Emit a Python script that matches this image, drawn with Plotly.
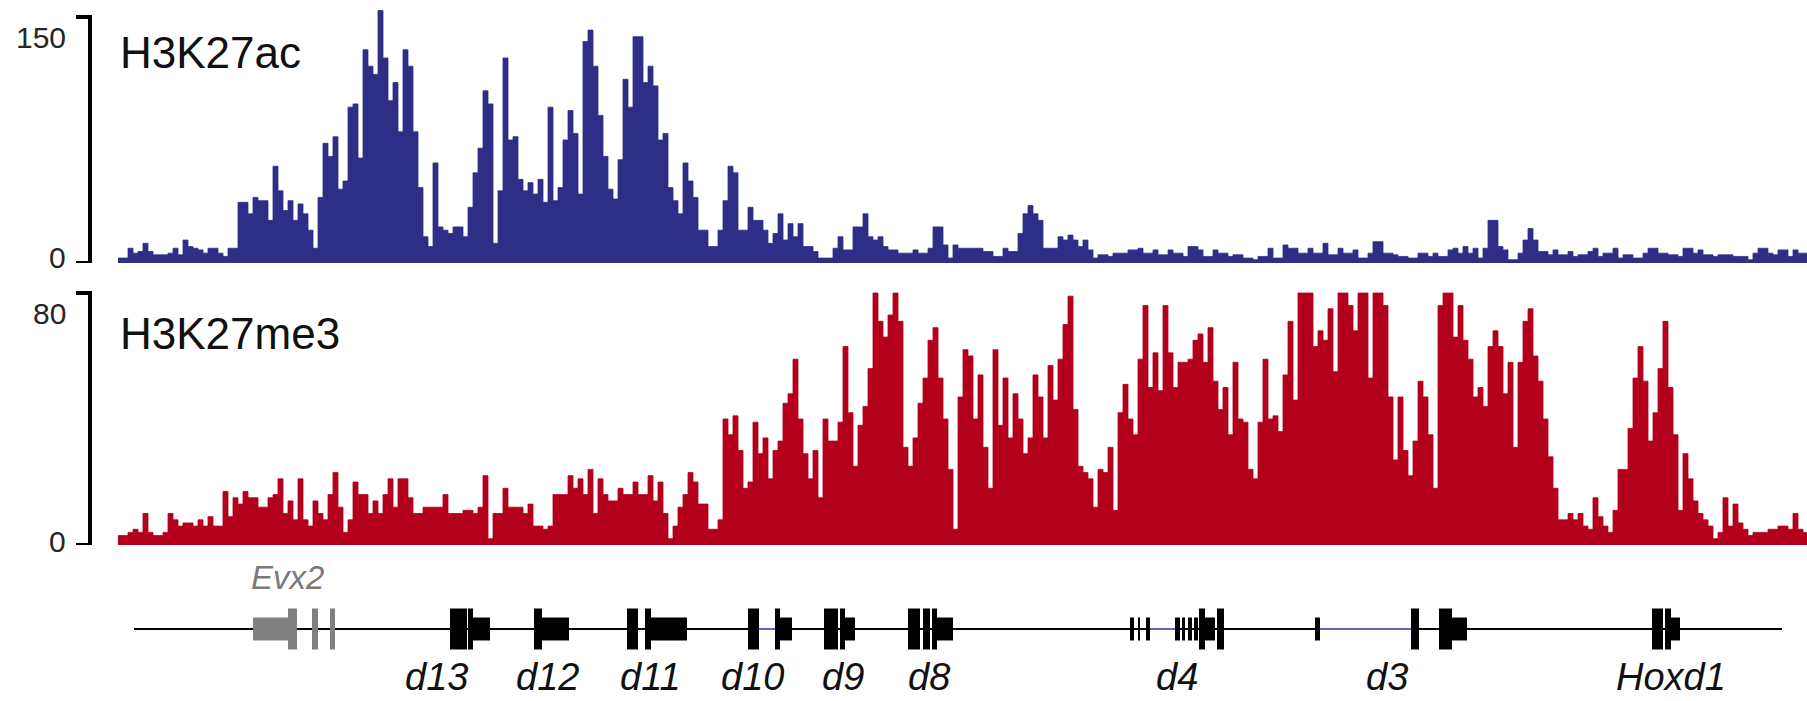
import plotly.graph_objects as go

W, H = 1807, 701
BIN_KB = 0.5          # width of one signal bin (kb)
X_MAX_KB = 168.9      # genomic window shown (kb)

# ---------------- signal tracks (one value per 0.5 kb bin) ----------------
ac_vals = [
    3, 3, 9, 6, 7, 12, 7, 5, 5, 5,
    6, 9, 5, 14, 10, 9, 8, 6, 9, 9,
    6, 4, 9, 9, 37, 37, 30, 40, 38, 38,
    26, 59, 44, 32, 38, 26, 36, 30, 20, 9,
    40, 73, 65, 77, 45, 50, 95, 97, 64, 130,
    120, 115, 154, 125, 99, 110, 80, 130, 120, 80,
    46, 16, 10, 61, 22, 20, 18, 22, 22, 16,
    34, 55, 70, 105, 97, 12, 44, 125, 75, 77,
    51, 44, 49, 42, 51, 37, 95, 38, 46, 75,
    93, 79, 42, 135, 142, 120, 90, 65, 45, 39,
    63, 112, 95, 138, 138, 110, 120, 108, 75, 79,
    46, 38, 30, 61, 50, 40, 20, 20, 10, 10,
    20, 38, 59, 55, 20, 20, 34, 26, 26, 20,
    12, 18, 30, 14, 24, 16, 24, 10, 10, 7,
    3, 3, 3, 9, 16, 8, 8, 22, 22, 30,
    16, 14, 16, 10, 8, 8, 6, 6, 6, 8,
    6, 6, 9, 22, 22, 11, 3, 11, 9, 9,
    9, 9, 9, 7, 7, 4, 4, 9, 7, 7,
    18, 30, 35, 30, 26, 9, 9, 9, 16, 14,
    17, 14, 10, 14, 8, 3, 5, 5, 4, 6,
    6, 6, 8, 8, 9, 6, 6, 8, 5, 5,
    8, 6, 6, 4, 10, 10, 8, 4, 4, 8,
    6, 6, 4, 5, 5, 3, 3, 2, 4, 4,
    9, 3, 3, 11, 9, 9, 6, 6, 9, 6,
    6, 12, 5, 5, 9, 6, 6, 8, 3, 3,
    6, 13, 13, 6, 6, 5, 4, 4, 3, 3,
    6, 6, 4, 6, 4, 4, 8, 9, 6, 10,
    6, 9, 3, 9, 26, 26, 10, 8, 2, 2,
    6, 14, 21, 14, 7, 7, 5, 8, 5, 5,
    7, 4, 5, 5, 7, 9, 4, 6, 6, 9,
    3, 5, 5, 3, 3, 6, 9, 9, 6, 6,
    5, 5, 4, 9, 9, 6, 8, 5, 5, 4,
    5, 5, 5, 4, 4, 4, 2, 6, 9, 9,
    6, 5, 8, 8, 4, 8, 6, 6,
]

me3_vals = [
    3, 3, 4, 5, 4, 10, 4, 3, 3, 4,
    10, 8, 6, 7, 7, 6, 8, 6, 9, 6,
    6, 17, 9, 15, 13, 17, 15, 15, 12, 12,
    15, 16, 21, 10, 14, 8, 21, 8, 6, 14,
    10, 8, 16, 23, 12, 4, 8, 20, 16, 16,
    10, 14, 10, 16, 21, 12, 21, 21, 15, 10,
    10, 12, 12, 12, 12, 16, 10, 10, 10, 11,
    11, 10, 12, 22, 2, 10, 10, 18, 12, 12,
    12, 10, 13, 6, 6, 5, 6, 16, 16, 16,
    22, 18, 21, 16, 24, 10, 21, 16, 14, 14,
    18, 16, 16, 20, 16, 16, 22, 14, 20, 10,
    2, 6, 12, 16, 23, 20, 13, 13, 5, 5,
    8, 40, 35, 41, 30, 18, 20, 39, 29, 34,
    21, 30, 33, 45, 48, 59, 40, 29, 21, 30,
    15, 40, 33, 33, 39, 63, 42, 25, 38, 44,
    56, 80, 71, 66, 73, 80, 71, 31, 25, 34,
    45, 53, 65, 69, 53, 40, 24, 5, 47, 62,
    60, 40, 54, 31, 18, 62, 38, 53, 34, 48,
    40, 29, 34, 54, 47, 34, 57, 46, 59, 70,
    79, 43, 25, 23, 21, 12, 24, 23, 31, 11,
    42, 51, 40, 35, 59, 76, 50, 61, 49, 76,
    61, 50, 58, 58, 59, 65, 67, 58, 69, 52,
    43, 50, 35, 58, 40, 39, 24, 21, 39, 59,
    40, 41, 36, 54, 71, 46, 80, 80, 80, 63,
    68, 65, 75, 55, 80, 80, 76, 68, 80, 80,
    53, 80, 80, 76, 47, 27, 47, 30, 22, 33,
    52, 47, 35, 18, 76, 80, 80, 66, 76, 65,
    59, 47, 50, 44, 63, 68, 63, 48, 58, 31,
    58, 71, 75, 60, 52, 40, 28, 18, 8, 8,
    10, 8, 10, 6, 5, 15, 9, 6, 4, 11,
    24, 24, 37, 53, 63, 52, 33, 42, 56, 71,
    50, 35, 11, 29, 21, 14, 10, 8, 6, 2,
    4, 15, 6, 13, 7, 5, 3, 4, 4, 4,
    5, 5, 6, 6, 5, 10, 5, 4,
]

track_names = ["H3K27ac", "H3K27me3"]
ac_tick_vals = [0, 150]
me3_tick_vals = [0, 80]

# ---------------- gene annotation (kb) ----------------
gene_line_start, gene_line_end = 1.6, 166.4
exon_start = [13.5, 17.0, 19.4, 21.2,
              33.2, 35.0, 35.5,
              41.6, 42.4,
              50.9, 52.7, 53.3,
              63.0, 65.7, 66.2,
              70.6, 72.2, 72.7,
              79.0, 80.5, 81.4, 81.9,
              101.2, 102.0, 102.8, 105.7, 106.4, 107.0, 107.6, 108.1, 108.7, 109.9,
              119.7, 129.3, 132.1, 133.4,
              153.4, 154.7, 155.3]
exon_end = [17.0, 17.9, 20.0, 21.7,
            34.9, 35.5, 37.2,
            42.4, 45.1,
            52.0, 53.3, 56.9,
            64.1, 66.2, 67.4,
            72.0, 72.7, 73.7,
            80.2, 81.2, 81.9, 83.5,
            101.6, 102.2, 103.2, 106.2, 106.7, 107.4, 108.0, 108.7, 109.7, 110.6,
            120.2, 130.1, 133.4, 134.9,
            154.5, 155.3, 156.2]
exon_kind = ["utr", "cds", "cds", "cds",
             "cds", "cds", "utr",
             "cds", "utr",
             "cds", "cds", "utr",
             "cds", "cds", "utr",
             "cds", "cds", "utr",
             "cds", "cds", "cds", "utr",
             "utr", "utr", "utr", "utr", "utr", "utr", "utr", "cds", "utr", "cds",
             "utr", "cds", "cds", "utr",
             "cds", "cds", "utr"]
exon_is_evx2 = [True] * 4 + [False] * 35
intron_start = [64.1, 103.2, 120.2]
intron_end = [65.7, 105.7, 129.3]

gene_labels = ["d13", "d12", "d11", "d10", "d9", "d8", "d4", "d3", "Hoxd1"]
gene_label_x = [31.8, 42.9, 53.2, 63.4, 72.5, 81.1, 105.9, 126.9, 155.3]
evx2_label, evx2_label_x = "Evx2", 16.9

# ---------------- styling ----------------
BLUE = "#2e2e86"
RED = "#b3001b"
GRAY = "#808080"
FONT = "Liberation Sans, Arial, Helvetica, sans-serif"


def py(px):  # pixel row -> paper fraction
    return 1 - px / H


def pxx(px):  # pixel column -> paper fraction
    return px / W


fig = go.Figure()

x_edges = [i * BIN_KB for i in range(len(ac_vals) + 1)]
fig.add_trace(go.Scatter(
    x=x_edges, y=ac_vals + [ac_vals[-1]], mode="lines",
    line=dict(shape="hv", width=0.8, color=BLUE),
    fill="tozeroy", fillcolor=BLUE, xaxis="x", yaxis="y", hoverinfo="skip"))
x_edges2 = [i * BIN_KB for i in range(len(me3_vals) + 1)]
fig.add_trace(go.Scatter(
    x=x_edges2, y=me3_vals + [me3_vals[-1]], mode="lines",
    line=dict(shape="hv", width=0.8, color=RED),
    fill="tozeroy", fillcolor=RED, xaxis="x", yaxis="y2", hoverinfo="skip"))

shapes = []
# gene backbone
shapes.append(dict(type="line", xref="x", yref="y3", x0=gene_line_start, x1=gene_line_end,
                   y0=0, y1=0, line=dict(color="black", width=2), layer="above"))
for s, e in zip(intron_start, intron_end):
    shapes.append(dict(type="line", xref="x", yref="y3", x0=s, x1=e, y0=0, y1=0,
                       line=dict(color="#6b62a8", width=2), layer="above"))
half = {"cds": 0.5, "utr": 0.28}
for s, e, k, ev in zip(exon_start, exon_end, exon_kind, exon_is_evx2):
    c = GRAY if ev else "black"
    shapes.append(dict(type="rect", xref="x", yref="y3", x0=s, x1=e,
                       y0=-half[k], y1=half[k], fillcolor=c, line=dict(width=0),
                       layer="above"))

# scale brackets
for yref, vals in (("y", ac_tick_vals), ("y2", me3_tick_vals)):
    shapes.append(dict(type="line", xref="paper", yref=yref, x0=pxx(90), x1=pxx(90),
                       y0=vals[0], y1=vals[1], line=dict(color="black", width=4)))
    for v in vals:
        shapes.append(dict(type="line", xref="paper", yref=yref, x0=pxx(76), x1=pxx(92),
                           y0=v, y1=v, line=dict(color="black", width=4)))

annotations = []
for yref, vals, shifts in (("y", ac_tick_vals, (6, -20)), ("y2", me3_tick_vals, (4, -20))):
    for v, sh in zip(vals, shifts):
        annotations.append(dict(xref="paper", yref=yref, x=pxx(68), y=v, yshift=sh,
                                text=str(v), showarrow=False, xanchor="right",
                                yanchor="middle", font=dict(size=30, color="#262626")))

annotations.append(dict(xref="paper", yref="paper", x=pxx(118), y=py(52), text=track_names[0],
                        showarrow=False, xanchor="left", yanchor="middle",
                        font=dict(size=44, color="#111111")))
annotations.append(dict(xref="paper", yref="paper", x=pxx(118), y=py(333), text=track_names[1],
                        showarrow=False, xanchor="left", yanchor="middle",
                        font=dict(size=44, color="#111111")))

for lab, x in zip(gene_labels, gene_label_x):
    annotations.append(dict(xref="x", yref="paper", x=x, y=py(700), text=f"<i>{lab}</i>",
                            showarrow=False, xanchor="center", yanchor="bottom",
                            font=dict(size=38, color="#111111")))
annotations.append(dict(xref="x", yref="paper", x=evx2_label_x, y=py(577),
                        text=f"<i>{evx2_label}</i>", showarrow=False, xanchor="center",
                        yanchor="middle", font=dict(size=33, color="#7a7a7a")))

hidden = dict(visible=False, showgrid=False, zeroline=False, fixedrange=True)
fig.update_layout(
    width=W, height=H, margin=dict(l=0, r=0, t=0, b=0),
    paper_bgcolor="white", plot_bgcolor="white", showlegend=False,
    font=dict(family=FONT),
    xaxis=dict(domain=[pxx(118), 1], range=[0, X_MAX_KB], **hidden),
    yaxis=dict(domain=[py(263), py(5)], range=[0, 258 / 1.64], anchor="x", **hidden),
    yaxis2=dict(domain=[py(545), py(286.7)], range=[0, 82], anchor="x", **hidden),
    yaxis3=dict(domain=[py(670), py(588)], range=[-1, 1], anchor="x", **hidden),
    shapes=shapes, annotations=annotations,
)

fig.write_html("out.html")
